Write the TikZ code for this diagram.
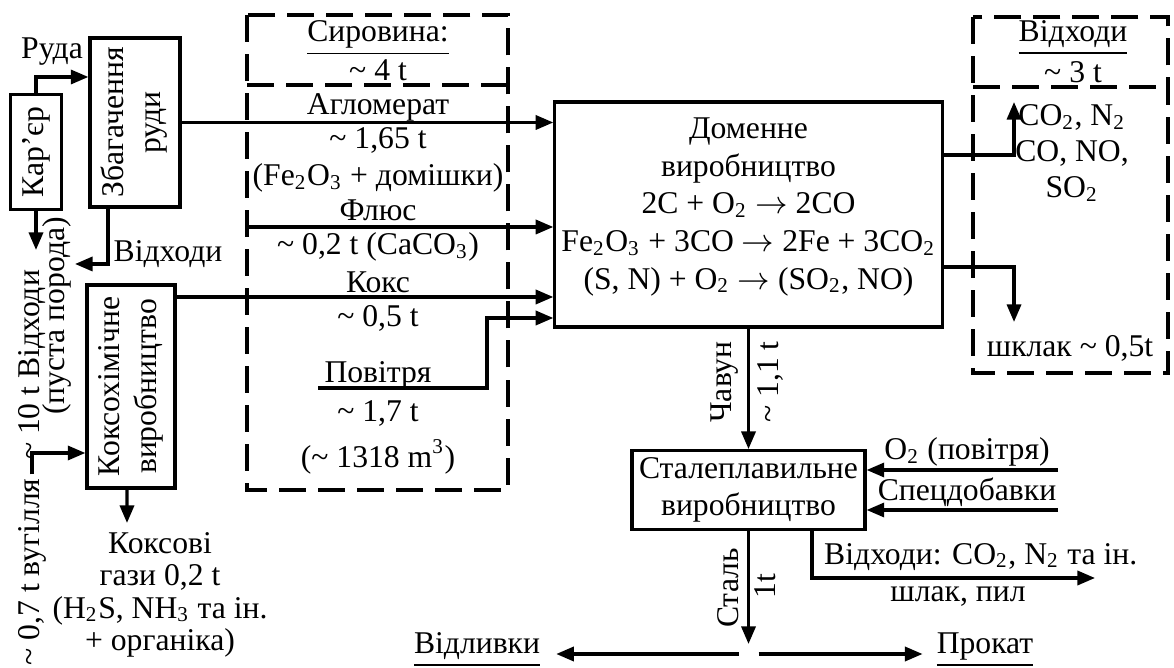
\documentclass[tikz,border=0pt]{standalone}
\usepackage{fontspec}
\setmainfont{Liberation Serif}
\usepackage{tikz}
\usetikzlibrary{arrows.meta, positioning}

\newcommand{\vtext}[1]{\rotatebox{90}{\begin{tabular}{@{}c@{}}#1\end{tabular}}}
\newcommand{\tld}{\textasciitilde}

\tikzset{
  blok/.style={draw, line width=0.9pt, inner sep=2pt},
  strl/.style={-{Triangle[length=5pt,width=4pt]}, line width=0.9pt},
  shtrykh/.style={line width=1pt, dash pattern=on 0.27cm off 0.12cm},
  napys/.style={inner sep=1pt, align=center},
}

\begin{document}
\begin{tikzpicture}[x=0.01cm, y=-0.01cm, font=\fontsize{9}{10.5}\selectfont]
        \useasboundingbox (0,0) rectangle (1174,668);
        % dashed groups
        \draw[shtrykh] (247,15) rectangle (508,490);
        \draw[shtrykh] (247,85) -- (508,85);
        \draw[shtrykh] (973,17) rectangle (1168,373);
        \draw[shtrykh] (973,87) -- (1168,87);

        % blocks
        \node[blok, minimum width=0.48cm, minimum height=1.15cm] (kar) at (36,152) {\vtext{Кар'єр}};
        \node[blok, minimum width=0.90cm, minimum height=1.69cm] (zbag) at (135,122.5) {\vtext{Збагачення\\руди}};
        \node[blok, minimum width=0.88cm, minimum height=2.03cm] (koks) at (131,386.5) {\vtext{Коксохімічне\\виробництво}};
        \node[blok, minimum width=3.87cm, minimum height=2.25cm] (domen) at (748.5,214.5) {};
        \node[napys, font=\fontsize{9}{10.7}\selectfont] (domentxt) at (748.5,207)
              {Доменне\\виробництво\\2C + O\textsubscript{2} $\rightarrow$ 2CO\\
               Fe\textsubscript{2}O\textsubscript{3} + 3CO $\rightarrow$ 2Fe + 3CO\textsubscript{2}\\
               (S, N) + O\textsubscript{2} $\rightarrow$ (SO\textsubscript{2}, NO)};
        \node[blok, minimum width=2.23cm, minimum height=0.76cm, align=center] (stal) at (748.5,490) {Сталеплавильне\\виробництво};

        % helper coordinates
        \coordinate (yruda) at (0,77);
        \coordinate (karvyh) at (36,250);
        \coordinate (zbvyh) at (75,264);
        \coordinate (yvug) at (0,453);
        \coordinate (kgvyh) at (127,523);
        \coordinate (flusstart) at (247,227);
        \coordinate (ykoks) at (0,297);
        \coordinate (povstart) at (318,388);
        \coordinate (povkut) at (487,318);
        \coordinate (gazkut) at (1014,155);
        \coordinate (gazvyh) at (1014,102);
        \coordinate (shlkut) at (1014,267);
        \coordinate (shlvyh) at (1014,322);
        \coordinate (o2) at (1058,470);
        \coordinate (dob) at (1058,510);
        \coordinate (stvyh) at (1095,578);
        \coordinate (stalvyh) at (748.5,644);
        \coordinate (rozg) at (748.5,654);

        % left part
        \node[napys] (ruda) at (52,52) {Руда};
        \node[napys] (zbvidh) at (168,254) {Відходи};
        \node[napys, rotate=90] (porodaA) at (32,365) {\tld\ 10 t Відходи};
        \node[napys, rotate=90] (porodaB) at (57,316) {(пуста порода)};
        \node[napys, rotate=90] (vugil) at (32,572) {\tld\ 0,7 t вугілля};
        \node[napys, font=\fontsize{9}{9.2}\selectfont] (kgaz) at (160,595)
              {Коксові\\гази 0,2 t\\(H\textsubscript{2}S, NH\textsubscript{3} та ін.\\+ органіка)};

        \draw[strl] (kar.north) |- (zbag.west |- yruda);
        \draw[strl] (kar.south) -- (karvyh);
        \draw[strl] ([xshift=-0.27cm]zbag.south) |- (zbvyh);
        \draw[strl] (vugil.east) |- (koks.west |- yvug);
        \draw[strl] ([xshift=-0.04cm]koks.south) -- (kgvyh);

        % raw materials
        \node[napys] (syr) at (378,38) {\underline{Сировина:}};
        \node[napys] (syr4) at (378,70) {\tld\ 4 t};
        \node[napys] (aglo) at (378,107) {Агломерат};
        \node[napys] (aglo2) at (378,160) {\tld\ 1,65 t\\(Fe\textsubscript{2}O\textsubscript{3} + домішки)};
        \node[napys] (flus) at (378,210) {Флюс};
        \node[napys] (flus2) at (378,247) {\tld\ 0,2 t (CaCO\textsubscript{3})};
        \node[napys] (koksl) at (378,282) {Кокс};
        \node[napys] (koksl2) at (378,318) {\tld\ 0,5 t};
        \node[napys] (povit) at (378,375) {Повітря};
        \node[napys] (povit2) at (378,413) {\tld\ 1,7 t};
        \node[napys] (povit3) at (378,457) {(\tld\ 1318 m\textsuperscript{3})};

        \draw[strl] (zbag.east) -- (zbag.east -| domen.west);
        \draw[strl] (flusstart) -- (flusstart -| domen.west);
        \draw[strl] (koks.east |- ykoks) -- (domen.west |- ykoks);
        \draw[strl] (povstart) -| (povkut) -- (povkut -| domen.west);

        % waste of blast furnace
        \node[napys] (vidh) at (1073,38) {\underline{Відходи}};
        \node[napys] (vidh3) at (1073,72) {\tld\ 3 t};
        \node[napys, font=\fontsize{9}{10.2}\selectfont] (gazy) at (1072,153) {CO\textsubscript{2}, N\textsubscript{2}\\CO, NO,\\SO\textsubscript{2}};
        \node[napys] (shlak) at (1070,348) {шклак \tld\ 0,5t};
        \draw[strl] (domen.east |- gazkut) -- (gazkut) -- (gazvyh);
        \draw[strl] (domen.east |- shlkut) -- (shlkut) -- (shlvyh);

        % steel
        \draw[strl] (domen.south) -- (stal.north);
        \node[napys, rotate=90] (chavun) at (725,382) {Чавун};
        \node[napys, rotate=90] (chavun2) at (770,382) {\tld\ 1,1 t};
        \node[napys] (o2l) at (967,452) {O\textsubscript{2} (повітря)};
        \node[napys] (dobl) at (967,492) {Спецдобавки};
        \draw[strl] (o2) -- (o2 -| stal.east);
        \draw[strl] (dob) -- (dob -| stal.east);
        \node[napys, anchor=west] (stvidh) at (820,557) {Відходи: CO\textsubscript{2}, N\textsubscript{2} та ін.};
        \node[napys] (stshl) at (958,597) {шлак, пил};
        \draw[strl] ([xshift=0.635cm]stal.south) |- (stvyh);
        \draw[strl] (stal.south) -- (stalvyh);
        \node[napys, rotate=90] (stall) at (728,588) {Сталь};
        \node[napys, rotate=90] (stal1) at (765,586) {1t};

        % products
        \node[napys] (vidlyvky) at (477,650) {\underline{Відливки}};
        \node[napys] (prokat) at (985,650) {\underline{Прокат}};
        \draw[strl] ([xshift=-0.1cm]rozg) -- ([xshift=0.12cm]vidlyvky.east |- rozg);
        \draw[strl] ([xshift=0.1cm]rozg) -- ([xshift=-0.1cm]prokat.west |- rozg);
    \end{tikzpicture}
\end{document}
